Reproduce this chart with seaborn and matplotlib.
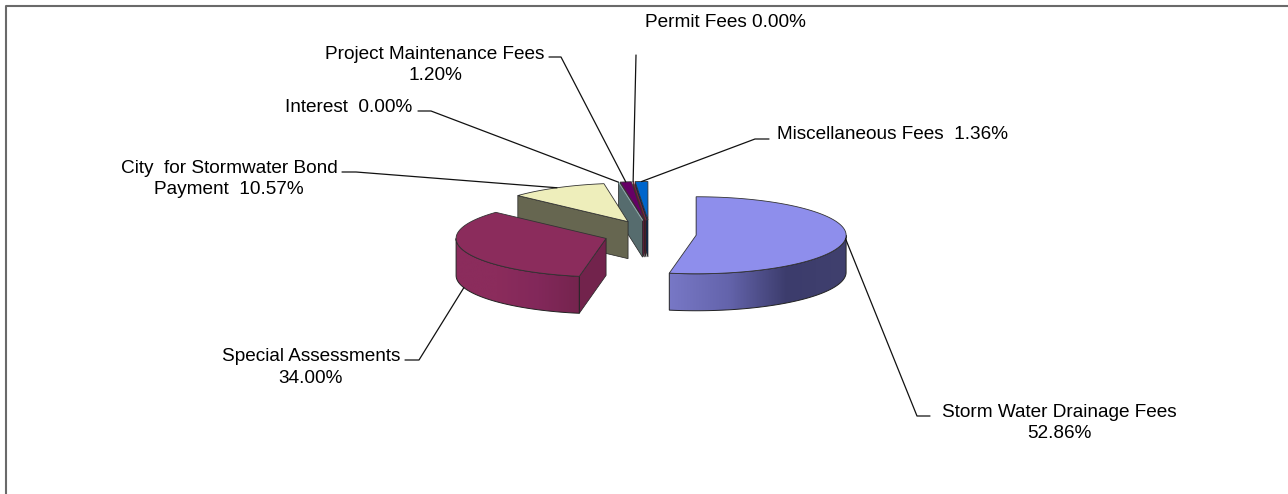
import numpy as np
import matplotlib
matplotlib.use("Agg")
import matplotlib.pyplot as plt
from matplotlib.colors import LinearSegmentedColormap
from matplotlib.patches import Polygon
import seaborn as sns

# Revenue shares in percent, clockwise from 12 o'clock
sources = ["Storm Water Drainage Fees", "Special Assessments",
           "City  for Stormwater Bond\nPayment", "Interest",
           "Project Maintenance Fees", "Permit Fees", "Miscellaneous Fees"]
shares = [52.86, 34.00, 10.57, 0.00, 1.20, 0.00, 1.36]
label_texts = ["Storm Water Drainage Fees\n52.86%", "Special Assessments\n34.00%",
               "City  for Stormwater Bond\nPayment  10.57%", "Interest  0.00%",
               "Project Maintenance Fees\n1.20%", "Permit Fees 0.00%",
               "Miscellaneous Fees  1.36%"]
top_colors = ["#8E8EEC", "#8B2C5C", "#EEEEBB", "#8FB0B0", "#660066", "#7A2A3A", "#0066CC"]
cut_colors = ["#47476F", "#72234C", "#666650", "#566C6E", "#5A1F3A", "#5A1F2A", "#0B2A52"]
side_ramps = [["#7878C6", "#6464AC", "#3C3C6C", "#40406E"],
              ["#8B2C5C", "#8B2C5C", "#82285A", "#75244E"],
              None, None, None, None, None]

# Label anchor, text alignment and start of each leader line, in figure pixels
text_xy = [(1059, 423), (311, 367.5), (229, 179), (412, 107), (435, 65), (645, 22.5), (777, 134.5)]
text_ha = ["center", "center", "center", "right", "center", "left", "left"]
elbows = [[(930, 416), (917, 416)], [(405, 360), (419, 360)], [(342, 172), (356, 172)],
          [(418, 111), (431, 111)], [(549, 57), (561, 57)], [(636, 55)],
          [(769, 139), (755, 139)]]

# Pie projection, in figure pixels
CENTER = (650.0, 234.0)
RX, RY, DEPTH = 150.0, 38.5, 37.0
EXPLODE_X, EXPLODE_Y = 46.3, 14.0

sns.set_theme(style="white")
plt.rcParams["font.family"] = ["Liberation Sans", "DejaVu Sans"]

fig = plt.figure(figsize=(12.88, 4.94), dpi=100, facecolor="white")
ax = fig.add_axes([0, 0, 1, 1])
ax.set_xlim(0, 1288)
ax.set_ylim(494, 0)
ax.axis("off")

# Chart frame: only the top and left rules fall inside the canvas
ax.plot([6, 6, 1288], [494, 6, 6], color="#6A6A6A", lw=1.5, solid_capstyle="butt")

edges = np.concatenate([[0], np.cumsum(shares)]) * 3.6
slices = []
for start, end in zip(edges[:-1], edges[1:]):
    mid = np.radians((start + end) / 2)
    apex = (CENTER[0] + EXPLODE_X * np.sin(mid), CENTER[1] - EXPLODE_Y * np.cos(mid))
    slices.append((start, end, apex))


def rim(apex, angle):
    a = np.radians(angle)
    return apex[0] + RX * np.sin(a), apex[1] - RY * np.cos(a)


def cut_face(apex, angle, color, z):
    x, y = rim(apex, angle)
    pts = [apex, (x, y), (x, y + DEPTH), (apex[0], apex[1] + DEPTH)]
    ax.add_patch(Polygon(pts, closed=True, fc=color, ec="#222222", lw=0.5, zorder=z))


def outer_wall(apex, a0, a1, ramp, z):
    angles = np.linspace(a0, a1, 80)
    xs, ys = rim(apex, angles)
    verts = np.vstack([np.c_[xs, ys], np.c_[xs, ys + DEPTH][::-1]])
    patch = Polygon(verts, closed=True, fc="none", ec="#222222", lw=0.7, zorder=z + 0.1)
    ax.add_patch(patch)
    cmap = LinearSegmentedColormap.from_list("wall", ramp)
    extent = (verts[:, 0].min(), verts[:, 0].max(), verts[:, 1].max(), verts[:, 1].min())
    image = ax.imshow(np.linspace(0, 1, 256)[None, :], cmap=cmap, extent=extent,
                      aspect="auto", zorder=z, interpolation="bilinear")
    image.set_clip_path(patch)


def top_face(apex, a0, a1, color, z):
    angles = np.linspace(a0, a1, max(int(a1 - a0) * 2, 2))
    xs, ys = rim(apex, angles)
    verts = np.vstack([[apex], np.c_[xs, ys]])
    ax.add_patch(Polygon(verts, closed=True, fc=color, ec="#333333", lw=0.6, zorder=z))


# Paint slices back to front: right-hand slivers first, the big front slices last
order = [6, 5, 4, 3, 2, 1, 0]
for rank, i in enumerate(order):
    start, end, apex = slices[i]
    z = 2 + rank
    if end > 180:
        cut_face(apex, start, cut_colors[i], z)
    if side_ramps[i] is not None:
        a0, a1 = max(start, 90), min(end, 270)
        outer_wall(apex, a0, a1, side_ramps[i], z + 0.2)
    if end > start:
        top_face(apex, start, end, top_colors[i], z + 0.4)
    else:
        x, y = rim(apex, start)
        ax.plot([apex[0], x], [apex[1], y], color=top_colors[i], lw=0.8, zorder=z + 0.4)

# Leader lines and labels
for i, (start, end, apex) in enumerate(slices):
    mid = (start + end) / 2
    x, y = rim(apex, mid)
    if 180 < mid < 270:
        y += DEPTH
    line = elbows[i] + [(x, y)]
    ax.plot(*zip(*line), color="#111111", lw=0.9, zorder=20)
    ax.text(*text_xy[i], label_texts[i], ha=text_ha[i], va="center", color="black",
            fontsize=13.65, linespacing=1.33, zorder=21)

fig.savefig("out.png", dpi=100, facecolor="white")
